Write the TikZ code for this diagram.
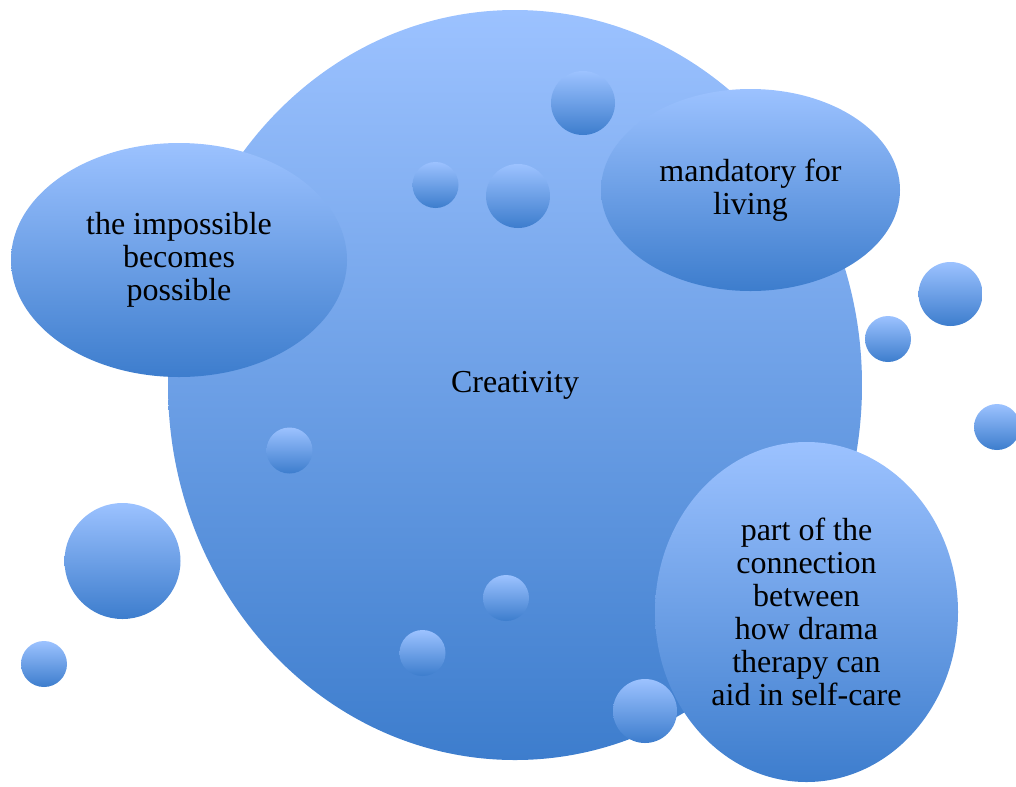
\documentclass[tikz,border=0pt]{standalone}
\usepackage{fontspec}
\setmainfont{Liberation Serif}
\usetikzlibrary{shapes.geometric}

\definecolor{bubbletop}{RGB}{156,194,255}
\definecolor{bubblebot}{RGB}{61,125,205}

\tikzset{
  bubble/.style={ellipse, inner sep=0pt, top color=bubbletop, bottom color=bubblebot,
    align=center, font=\fontsize{24}{24.75}\selectfont},
  drop/.style={circle, inner sep=0pt, top color=bubbletop, bottom color=bubblebot}
}

\begin{document}
\begin{tikzpicture}[x=0.75pt, y=-0.75pt]
    \useasboundingbox (0,0) rectangle (1016,786);

    % Main bubble
    \node[bubble, minimum width=520.5pt, minimum height=562.5pt] (creat) at (515,385) {Creativity};

    % Outer bubbles
    \node[bubble, minimum width=252pt, minimum height=175.5pt] (impos) at (179,260) {the impossible\\becomes\\possible};
    \node[bubble, minimum width=224.25pt, minimum height=151.5pt] (mandat) at (750.5,190) {mandatory for\\living};
    \node[bubble, minimum width=227.25pt, minimum height=255pt] (connect) at (806.5,612) {part of the\\connection\\between\\how drama\\therapy can\\aid in self-care};

    % Small drops
    \foreach \x/\y/\rad [count=\i] in {583/103/32, 435.5/185/23, 518/196/32, 950.5/294/32,
        888/339/23, 997/427/23, 289.5/450.5/23, 122.5/561/58, 44/664/23,
        506/598/23, 422.5/653/23, 645/711/32} {
        \node[drop, minimum size=1.5pt*\rad] (drop\i) at (\x,\y) {};
    }
\end{tikzpicture}
\end{document}
